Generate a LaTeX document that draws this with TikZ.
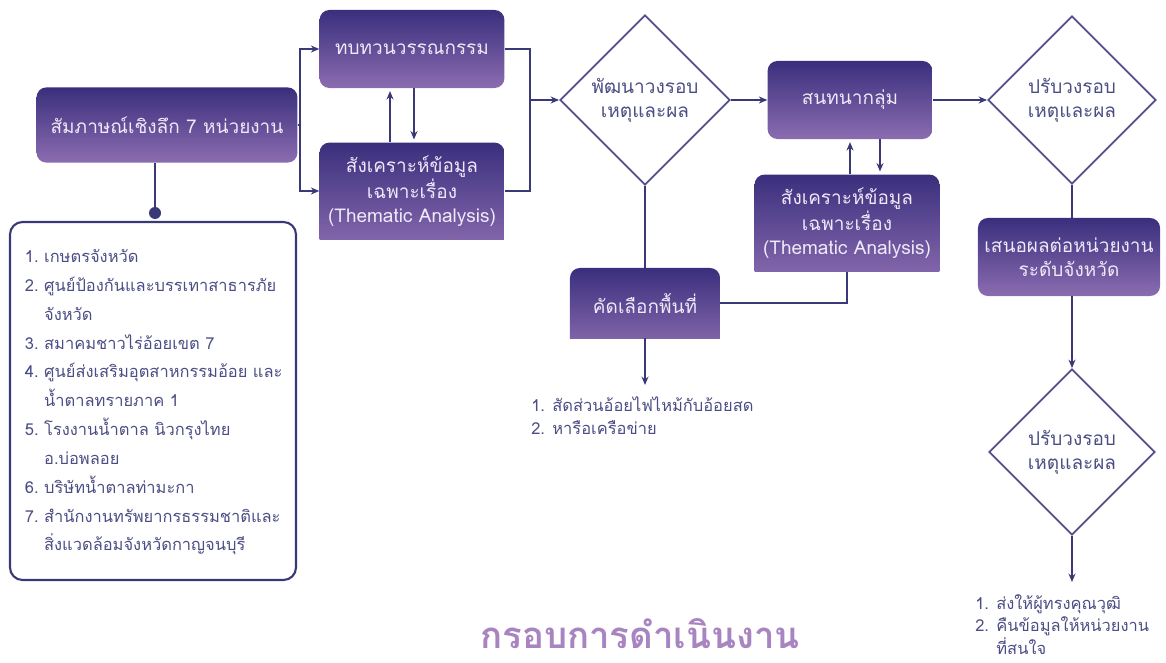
\documentclass[tikz,border=0pt]{standalone}
\usepackage{fontspec}
\newfontfamily\thaifont[Script=Thai]{Loma}
\usepackage{xcolor}
\usetikzlibrary{shapes.geometric,arrows.meta}
\definecolor{linec}{RGB}{58,56,118}
\definecolor{diamc}{RGB}{84,78,140}
\definecolor{boxtop}{RGB}{58,47,125}
\definecolor{boxbot}{RGB}{139,108,176}
\definecolor{boxtext}{RGB}{238,233,248}
\definecolor{listtext}{RGB}{75,78,132}
\definecolor{titlec}{RGB}{168,132,192}
\tikzstyle{box}=[draw=none, rectangle, rounded corners=7pt, top color=boxtop, bottom color=boxbot, text=boxtext, align=center, inner sep=1mm, font=\thaifont\fontsize{13.5}{17}\selectfont]
\tikzstyle{tab}=[draw=none, rectangle, text=boxtext, align=center, inner sep=1mm, font=\thaifont\fontsize{13.5}{17}\selectfont,
  path picture={\shade[top color=boxtop, bottom color=boxbot, rounded corners=7pt] (path picture bounding box.north west) rectangle ([yshift=-9pt]path picture bounding box.south east);}]
\tikzstyle{decide}=[draw=diamc, line width=1.3pt, fill=white, diamond, aspect=1, inner sep=0pt, text=listtext, align=center, font=\thaifont\fontsize{13.5}{17}\selectfont]
\tikzstyle{listbox}=[draw=linec, line width=1.5pt, rectangle, rounded corners=9pt, text=listtext, align=left, text width=6.4cm, inner xsep=0.375cm, font=\thaifont\fontsize{11.7}{20.5}\selectfont]
\tikzstyle{plain}=[draw=none, inner sep=0pt, text=listtext, align=left]
\tikzstyle{flow}=[draw=linec, line width=1.3pt]

\begin{document}
\begin{tikzpicture}[x=0.025cm, y=0.025cm, >={Stealth[length=6pt,width=5pt]}]
\useasboundingbox (0,0) rectangle (1166,-663);
% steps
\node[box, minimum width=6.52cm, minimum height=1.88cm] (interview) at (167,-125) {สัมภาษณ์เชิงลึก 7 หน่วยงาน};
\node[box, minimum width=4.62cm, minimum height=1.95cm] (review) at (412,-49) {ทบทวนวรรณกรรม};
\node[tab, minimum width=4.62cm, minimum height=2.42cm] (synth1) at (412,-191) {สังเคราะห์ข้อมูล\\เฉพาะเรื่อง\\(Thematic Analysis)};
\node[decide, minimum size=4.25cm] (develop) at (645,-100) {พัฒนาวงรอบ\\เหตุและผล};
\node[box, minimum width=4.12cm, minimum height=1.95cm] (focus) at (850,-100) {สนทนากลุ่ม};
\node[tab, minimum width=4.62cm, minimum height=2.42cm] (synth2) at (847,-223) {สังเคราะห์ข้อมูล\\เฉพาะเรื่อง\\(Thematic Analysis)};
\node[tab, minimum width=3.75cm, minimum height=1.75cm] (select) at (645,-303) {คัดเลือกพื้นที่};
\node[decide, minimum size=4.2cm] (adjust1) at (1072,-100) {ปรับวงรอบ\\เหตุและผล};
\node[box, minimum width=4.55cm, minimum height=1.95cm] (present) at (1069,-257) {เสนอผลต่อหน่วยงาน\\ระดับจังหวัด};
\node[decide, minimum size=4.15cm] (adjust2) at (1072,-452) {ปรับวงรอบ\\เหตุและผล};
% lists
\node[listbox, minimum height=8.95cm] (agencies) at (153,-401) {%
  \begin{tabular}{@{}l@{\ }l@{}}
  1. & เกษตรจังหวัด\\
  2. & ศูนย์ป้องกันและบรรเทาสาธารภัย\\
     & จังหวัด\\
  3. & สมาคมชาวไร่อ้อยเขต 7\\
  4. & ศูนย์ส่งเสริมอุตสาหกรรมอ้อย และ\\
     & น้ำตาลทรายภาค 1\\
  5. & โรงงานน้ำตาล นิวกรุงไทย\\
     & อ.บ่อพลอย\\
  6. & บริษัทน้ำตาลท่ามะกา\\
  7. & สำนักงานทรัพยากรธรรมชาติและ\\
     & สิ่งแวดล้อมจังหวัดกาญจนบุรี
  \end{tabular}};
\node[circle, fill=linec, inner sep=0pt, minimum size=0.3cm] (dot) at (155,-213) {};
\node[plain, anchor=north west, font=\thaifont\fontsize{11.7}{17}\selectfont] (criteria) at (531,-396) {1. สัดส่วนอ้อยไฟไหม้กับอ้อยสด\\2. หารือเครือข่าย};
\node[plain, anchor=north west, font=\thaifont\fontsize{11.7}{16}\selectfont] (follow) at (975,-594) {1. ส่งให้ผู้ทรงคุณวุฒิ\\2. คืนข้อมูลให้หน่วยงาน\\\phantom{2. }ที่สนใจ};
\node[text=titlec, font=\thaifont\bfseries\fontsize{26}{30}\selectfont] (title) at (640,-634) {กรอบการดำเนินงาน};
% joints
\coordinate (split) at (300,-125);
\coordinate (merge) at (530,-100);
\coordinate (pick) at (645,-385);
\coordinate (send) at (1072,-582);
% connectors
\draw[flow] (interview.south -| dot) -- (dot);
\draw[flow] (interview.east) -- (split);
\foreach \t in {review, synth1}
  \draw[flow,->] (split) |- (\t.west);
\foreach \f in {review, synth1}
  \draw[flow] (\f.east) -| (merge);
\draw[flow,->] (merge) -- (develop.west);
\foreach \f/\t in {develop/focus, focus/adjust1}
  \draw[flow,->] (\f.east) -- (\t.west);
\draw[flow,->,shorten >=2pt] ([xshift=-0.55cm]synth1.north) -- ([xshift=-0.55cm]review.south);
\draw[flow,->,shorten >=2pt] ([xshift=0.05cm]review.south) -- ([xshift=0.05cm]synth1.north);
\draw[flow,->,shorten >=2pt] (synth2.north -| focus) -- (focus.south);
\draw[flow,->,shorten >=2pt] ([xshift=0.75cm]focus.south) -- ([xshift=0.75cm]focus.south |- synth2.north);
\draw[flow] (develop.south) -- (select.north);
\draw[flow] (synth2.south) |- (select.east);
\draw[flow,->] (select.south) -- (pick);
\draw[flow] (adjust1.south) -- (adjust1.south |- present.north);
\draw[flow,->] (present.south -| adjust2) -- (adjust2.north);
\draw[flow,->] (adjust2.south) -- (send);
\end{tikzpicture}
\end{document}
